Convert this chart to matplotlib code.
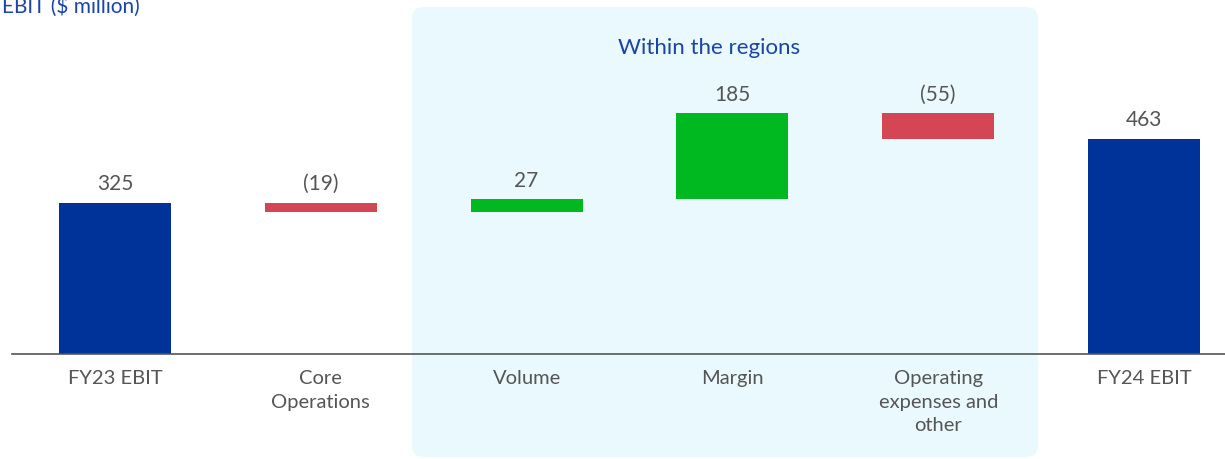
import numpy as np
import matplotlib.pyplot as plt
from matplotlib.patches import FancyBboxPatch

plt.rcParams['font.family'] = ['Lato', 'DejaVu Sans']

# Data
categories = ['FY23 EBIT', 'Core\nOperations', 'Volume', 'Margin',
              'Operating\nexpenses and\nother', 'FY24 EBIT']
changes = [325, -19, 27, 185, -55, 463]
kinds = ['total', 'delta', 'delta', 'delta', 'delta', 'total']
value_labels = ['325', '(19)', '27', '185', '(55)', '463']

BLUE = '#00339a'
GREEN = '#00b920'
RED = '#d44654'
TEXT = '#555555'
TITLE_BLUE = '#1a44a8'

W, H = 1225, 460
fig = plt.figure(figsize=(W / 100, H / 100), dpi=100)
ax = fig.add_axes([0, 0, 1, 1])

px_per_unit = 0.4646
x_step = 205.8
base_px = 355
ax.set_ylim(-(H - base_px) / px_per_unit, base_px / px_per_unit)
ax.set_xlim(-115 / x_step, (W - 115) / x_step)
ax.axis('off')

# shaded "within the regions" box
ux = 1 / x_step
uy = 1 / px_per_unit
box = FancyBboxPatch((1.443, -221.7), 4.485 - 1.443, 746.9 + 221.7,
                     boxstyle=f'round,pad=0,rounding_size={12 * ux}',
                     mutation_aspect=uy / ux,
                     facecolor='#eaf9fd', edgecolor='none', zorder=0)
ax.add_patch(box)

x = np.arange(len(categories))
running = 0
bottoms, heights, colors = [], [], []
for v, k in zip(changes, kinds):
    if k == 'total':
        bottoms.append(0)
        heights.append(v)
        colors.append(BLUE)
        running = v
    else:
        start = running
        running += v
        bottoms.append(min(start, running))
        heights.append(abs(v))
        colors.append(GREEN if v > 0 else RED)

bars = ax.bar(x, heights, bottom=bottoms, width=0.545, color=colors, zorder=2)

ax.axhline(0, xmin=12 / W, xmax=1, color='#555555', lw=1.2, zorder=3)

for xi, b, h, lab in zip(x, bottoms, heights, value_labels):
    ax.annotate(lab, (xi, b + h), xytext=(0, 7), textcoords='offset points',
                ha='center', va='bottom', fontsize=15, color=TEXT)

for xi, cat in zip(x, categories):
    ax.annotate(cat, (xi, 0), xytext=(0, -11), textcoords='offset points',
                ha='center', va='top', fontsize=14.5, color=TEXT,
                linespacing=1.45)

ax.text(2.886, (base_px - 48) / px_per_unit, 'Within the regions',
        ha='center', va='center', fontsize=16, color=TITLE_BLUE)

fig.text(0.002, 1.0 + 4 / H, 'EBIT ($ million)', ha='left', va='top',
         fontsize=15, color=TITLE_BLUE)

fig.savefig('out.png', dpi=100)
